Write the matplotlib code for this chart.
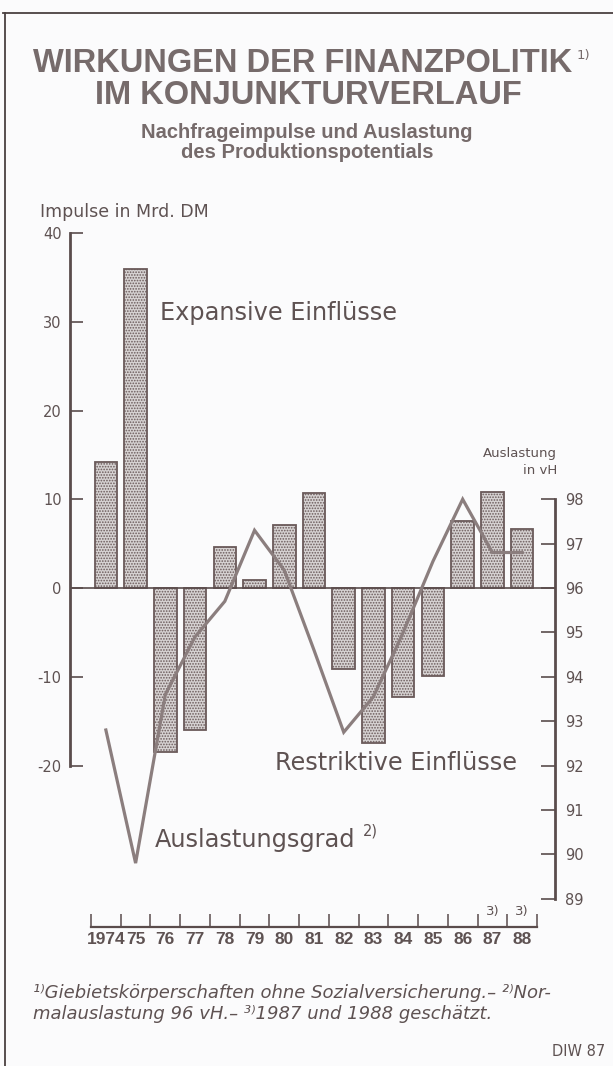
import matplotlib
matplotlib.use("Agg")
import matplotlib.pyplot as plt
import matplotlib.transforms as mtransforms
import numpy as np

# ---------------- data ----------------
years = ["1974", "75", "76", "77", "78", "79", "80", "81", "82", "83", "84", "85", "86", "87", "88"]
impulses = [14.2, 36.0, -18.5, -16.0, 4.6, 0.9, 7.1, 10.7, -9.1, -17.5, -12.3, -9.9, 7.6, 10.8, 6.6]
auslastung = [92.8, 89.8, 93.6, 94.9, 95.7, 97.3, 96.4, 94.6, 92.75, 93.55, 95.0, 96.6, 98.0, 96.8, 96.8]
left_ticks = [-20, -10, 0, 10, 20, 30, 40]
right_ticks = [89, 90, 91, 92, 93, 94, 95, 96, 97, 98]
estimated = ["87", "88"]

# ---------------- style ----------------
BG = "#fbfbfc"
TXT = "#5e5252"
TITLE = "#766b6b"
LINE = "#8b7e7e"
EDGE = "#6a5a5a"
AX = "#5a4c4c"
BAR = "#d6d2d2"
LIB = ["Liberation Sans", "DejaVu Sans"]

plt.rcParams["font.family"] = ["DejaVu Sans"]
plt.rcParams["hatch.linewidth"] = 0.8

W, H = 613, 1066
fig = plt.figure(figsize=(W / 100, H / 100), dpi=100, facecolor=BG)

def fx(px):
    return px / W

def fy(py):
    return 1 - py / H

# frame lines (top and left)
fig.add_artist(plt.Line2D([fx(3), fx(613)], [fy(13), fy(13)], color="#4a4040", lw=1.3))
fig.add_artist(plt.Line2D([fx(5), fx(5)], [fy(13), fy(1066)], color="#4a4040", lw=1.3))

# titles
fig.text(fx(303), fy(63), "WIRKUNGEN DER FINANZPOLITIK", ha="center", va="center",
         fontsize=23.5, fontweight="bold", color=TITLE, family=LIB)
fig.text(fx(577), fy(55), "1)", ha="left", va="center", fontsize=9.5, color=TITLE)
fig.text(fx(308), fy(96), "IM KONJUNKTURVERLAUF", ha="center", va="center",
         fontsize=23.5, fontweight="bold", color=TITLE, family=LIB)
fig.text(fx(307), fy(133), "Nachfrageimpulse und Auslastung", ha="center", va="center",
         fontsize=14.5, fontweight="bold", color=TITLE, family=LIB)
fig.text(fx(307), fy(153), "des Produktionspotentials", ha="center", va="center",
         fontsize=14.5, fontweight="bold", color=TITLE, family=LIB)

# ---------------- main axes ----------------
px_left, px_right = 70, 555
px_top, px_bot = 233, 899
ax = fig.add_axes([fx(px_left), fy(px_bot), (px_right - px_left) / W, (px_bot - px_top) / H])
ax.set_facecolor("none")

unit = (537 - 91) / 15.0
xmin = -0.5 - (91 - px_left) / unit
xmax = 14.5 + (px_right - 537) / unit
ax.set_xlim(xmin, xmax)
ppu = (588 - 233) / 40.0
ylo = -(px_bot - 588) / ppu
ax.set_ylim(ylo, 40)

x = np.arange(len(years))
ax.bar(x, impulses, width=0.76, facecolor=BAR, edgecolor=EDGE, linewidth=1.3,
       hatch="......", zorder=2)
ax.axhline(0, color=AX, lw=1.2, zorder=3)

ax.spines["top"].set_visible(False)
ax.spines["right"].set_visible(False)
ax.spines["left"].set_bounds(-20, 40)
ax.spines["left"].set_color(AX)
ax.spines["left"].set_linewidth(2.0)
ax.set_yticks(left_ticks)
ax.set_yticklabels([str(v) for v in left_ticks])
ax.tick_params(axis="y", direction="in", length=9, width=1.2, color=AX,
               labelsize=10.5, labelcolor=TXT, pad=6)

# x axis (separate line below)
ax.spines["bottom"].set_position(("outward", 20))
ax.spines["bottom"].set_bounds(-0.5, 14.5)
ax.spines["bottom"].set_color(AX)
ax.spines["bottom"].set_linewidth(1.6)
ax.set_xticks(np.arange(-0.5, 15.0, 1.0))
ax.set_xticklabels([])
ax.set_xticks(x, minor=True)
ax.set_xticklabels(years, minor=True, fontsize=12.5, fontweight="bold", color=TXT, family=LIB)
ax.tick_params(axis="x", which="major", direction="in", length=9.5, width=1.1, color=AX)
ax.tick_params(axis="x", which="minor", length=0, pad=4)

# right axis
axr = ax.twinx()
axr.set_ylim(96 + ylo / 5.0, 96 + 40 / 5.0)
axr.set_xlim(xmin, xmax)
for s in ["top", "left", "bottom"]:
    axr.spines[s].set_visible(False)
axr.spines["right"].set_bounds(89, 98)
axr.spines["right"].set_color(AX)
axr.spines["right"].set_linewidth(2.0)
axr.set_yticks(right_ticks)
axr.set_yticklabels([str(v) for v in right_ticks])
axr.tick_params(axis="y", direction="in", length=10, width=1.2, color=AX,
                labelsize=10.5, labelcolor=TXT, pad=7)
axr.plot(x, auslastung, color=LINE, lw=2.3, solid_joinstyle="miter", zorder=4)

# labels in plot
fig.text(fx(40), fy(212), "Impulse in Mrd. DM", ha="left", va="center", fontsize=12.5, color=TXT)
fig.text(fx(160), fy(313), "Expansive Einflüsse", ha="left", va="center", fontsize=17.3, color=TXT)
fig.text(fx(275), fy(763), "Restriktive Einflüsse", ha="left", va="center", fontsize=17.3, color=TXT)
fig.text(fx(155), fy(840), "Auslastungsgrad", ha="left", va="center", fontsize=17.3, color=TXT)
fig.text(fx(363), fy(831), "2)", ha="left", va="center", fontsize=10.5, color=TXT)
fig.text(fx(557), fy(453), "Auslastung", ha="right", va="center", fontsize=9.5, color=TXT)
fig.text(fx(557), fy(470), "in vH", ha="right", va="center", fontsize=9.5, color=TXT)

# footnote marks above the estimated years
trans = mtransforms.blended_transform_factory(ax.transData, fig.transFigure)
for lab in estimated:
    i = years.index(lab)
    ax.text(i, fy(912), "3)", transform=trans, ha="center", va="center", fontsize=9.5,
            color=TXT, clip_on=False)

# footnotes
fig.text(fx(33), fy(993), "¹⁾Giebietskörperschaften ohne Sozialversicherung.– ²⁾Nor-",
         ha="left", va="center", fontsize=13, style="italic", color=TXT)
fig.text(fx(33), fy(1014), "malauslastung 96 vH.– ³⁾1987 und 1988 geschätzt.",
         ha="left", va="center", fontsize=13, style="italic", color=TXT)
fig.text(fx(605), fy(1052), "DIW 87", ha="right", va="center", fontsize=10.5, color=TXT)

fig.savefig("out.png", dpi=100, facecolor=BG)
